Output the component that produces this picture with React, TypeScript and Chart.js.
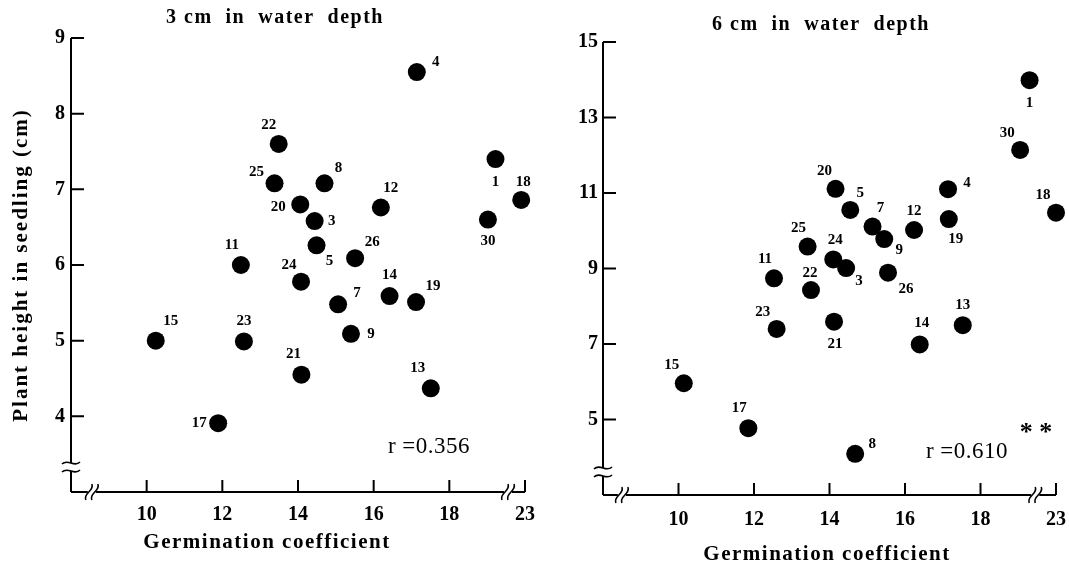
import React, { useEffect, useRef } from 'react';
import { Chart, registerables } from 'chart.js';

Chart.register(...registerables);

// ---------- data: 3 cm water depth ----------
const ids3 = ['4', '22', '25', '8', '20', '3', '12', '1', '18', '30', '11', '5', '26', '24', '14', '19', '7', '15', '23', '9', '21', '13', '17'];
const germination3 = [17.14, 13.49, 13.38, 14.7, 14.06, 14.44, 16.19, 19.22, 22.9, 19.02, 12.49, 14.49, 15.51, 14.08, 16.42, 17.12, 15.06, 10.24, 12.57, 15.4, 14.09, 17.51, 11.89];
const height3 = [8.55, 7.6, 7.08, 7.08, 6.8, 6.58, 6.76, 7.4, 6.86, 6.6, 6.0, 6.26, 6.09, 5.78, 5.59, 5.51, 5.48, 5.0, 4.99, 5.09, 4.55, 4.37, 3.91];
const yTicks3 = [4, 5, 6, 7, 8, 9];
const r3 = 'r =0.356';

// ---------- data: 6 cm water depth ----------
const ids6 = ['1', '30', '18', '20', '4', '5', '7', '12', '19', '9', '25', '24', '3', '26', '11', '22', '23', '21', '14', '13', '15', '17', '8'];
const germination6 = [19.3, 19.05, 23.0, 14.16, 17.14, 14.55, 15.14, 16.24, 17.16, 15.45, 13.42, 14.1, 14.44, 15.55, 12.53, 13.51, 12.6, 14.12, 16.39, 17.53, 10.14, 11.85, 14.68];
const height6 = [13.99, 12.14, 10.48, 11.11, 11.1, 10.55, 10.11, 10.02, 10.31, 9.78, 9.58, 9.24, 9.01, 8.89, 8.74, 8.43, 7.4, 7.59, 6.99, 7.5, 5.96, 4.77, 4.09];
const yTicks6 = [5, 7, 9, 11, 13, 15];
const r6 = 'r =0.610';

// shared x axis ticks (broken axis: 23 sits right after the break)
const xTickValues = [10, 12, 14, 16, 18, 23];
const xTickLabels = ['10', '12', '14', '16', '18', '23'];
const xTitle = 'Germination coefficient';
const yTitle = 'Plant height in seedling (cm)';

// ---------- label offsets (px, relative to each dot) ----------
const labelOffsets3 = [[19, -10], [-10, -19], [-18, -11], [14, -15], [-22, 3], [17, 0], [10, -19], [0, 23], [2, -18], [0, 22], [-9, -20], [13, 16], [17, -16], [-12, -17], [0, -21], [17, -16], [19, -11], [15, -20], [0, -20], [20, 0], [-8, -21], [-13, -20], [-19, 0]];
const labelOffsets6 = [[0, 23], [-13, -17], [-13, -18], [-11, -18], [19, -6], [10, -17], [8, -18], [0, -19], [7, 20], [15, 11], [-9, -18], [2, -19], [13, 13], [18, 16], [-9, -19], [-1, -17], [-14, -17], [1, 22], [2, -21], [0, -20], [-12, -18], [-9, -20], [17, -10]];

const SERIF = '"Liberation Serif", "DejaVu Serif", serif';

// broken x axis: values beyond the break are shifted onto the short end segment
const axisX = (g: number) => (g > 20.5 ? g - 3 : g);

type Panel = {
  title: string;
  ids: string[];
  xs: number[];
  ys: number[];
  offsets: number[][];
  yTicks: number[];
  yMin: number;
  yMax: number;
  rText: string;
  stars: boolean;
  top: number;
  padRight: number;
  yAxisW: number;
  xAxisH: number;
  xTickPad: number;
  yTickPad: number;
  yBreak: number;
  xBreaks: number[];
  titlePos: number[];
  xTitlePos: number[];
  yTitlePos: number[];
  rPos: number[];
  starPos: number[];
};

const panel3: Panel = {
  title: '3 cm  in  water  depth',
  ids: ids3, xs: germination3, ys: height3, offsets: labelOffsets3,
  yTicks: yTicks3, yMin: 3, yMax: 9, rText: r3, stars: false,
  top: 38, padRight: 10, yAxisW: 71, xAxisH: 75, xTickPad: 11, yTickPad: 6,
  yBreak: 3.33, xBreaks: [8.55, 19.55],
  titlePos: [275, 18], xTitlePos: [267, 543], yTitlePos: [22, 265], rPos: [429, 447], starPos: [0, 0],
};

const panel6: Panel = {
  title: '6 cm  in  water  depth',
  ids: ids6, xs: germination6, ys: height6, offsets: labelOffsets6,
  yTicks: yTicks6, yMin: 3, yMax: 15, rText: r6, stars: true,
  top: 42, padRight: 13, yAxisW: 68, xAxisH: 72, xTickPad: 13, yTickPad: 5,
  yBreak: 3.61, xBreaks: [8.5, 19.45],
  titlePos: [821 - 535, 25], xTitlePos: [827 - 535, 555], yTitlePos: [0, 0], rPos: [967 - 535, 452], starPos: [1036 - 535, 433],
};

function overlay(p: Panel) {
  return {
    id: 'overlay',
    afterDraw(chart: any) {
      const ctx: CanvasRenderingContext2D = chart.ctx;
      const { left, right, top, bottom } = chart.chartArea;
      const sx = chart.scales.x;
      const sy = chart.scales.y;
      ctx.save();
      ctx.strokeStyle = '#000';
      ctx.fillStyle = '#000';
      ctx.lineWidth = 2;

      // y axis with break
      const yb = sy.getPixelForValue(p.yBreak);
      ctx.beginPath();
      ctx.moveTo(left, top);
      ctx.lineTo(left, yb - 4);
      ctx.moveTo(left, yb + 4);
      ctx.lineTo(left, bottom);
      ctx.stroke();
      ctx.lineWidth = 1.6;
      for (const d of [-4, 4]) {
        ctx.beginPath();
        ctx.moveTo(left - 9, yb + d + 1);
        ctx.bezierCurveTo(left - 3, yb + d - 5, left + 3, yb + d + 5, left + 9, yb + d - 1);
        ctx.stroke();
      }

      // x axis with breaks
      ctx.lineWidth = 2;
      const xb = p.xBreaks.map((v) => sx.getPixelForValue(v));
      ctx.beginPath();
      ctx.moveTo(left, bottom);
      ctx.lineTo(xb[0] - 4, bottom);
      ctx.moveTo(xb[0] + 4, bottom);
      ctx.lineTo(xb[1] - 4, bottom);
      ctx.moveTo(xb[1] + 4, bottom);
      ctx.lineTo(right, bottom);
      ctx.stroke();
      ctx.lineWidth = 1.6;
      for (const b of xb) {
        for (const d of [-3, 3]) {
          ctx.beginPath();
          ctx.moveTo(b + d - 3, bottom + 8);
          ctx.bezierCurveTo(b + d - 6, bottom + 1, b + d + 6, bottom - 1, b + d + 3, bottom - 8);
          ctx.stroke();
        }
      }

      // inward tick marks
      ctx.lineWidth = 2;
      ctx.beginPath();
      for (const t of sy.ticks) {
        const py = sy.getPixelForValue(t.value);
        ctx.moveTo(left, py);
        ctx.lineTo(left + 13, py);
      }
      for (const t of sx.ticks) {
        const px = sx.getPixelForValue(t.value);
        ctx.moveTo(px, bottom);
        ctx.lineTo(px, bottom - 12);
      }
      ctx.stroke();

      // point labels
      ctx.font = `bold 15px ${SERIF}`;
      ctx.textAlign = 'center';
      ctx.textBaseline = 'middle';
      const meta = chart.getDatasetMeta(0);
      meta.data.forEach((el: any, i: number) => {
        const [dx, dy] = p.offsets[i];
        ctx.fillText(p.ids[i], el.x + dx, el.y + dy);
      });

      // title
      (ctx as any).letterSpacing = '1.5px';
      ctx.font = `bold 20px ${SERIF}`;
      ctx.fillText(p.title, p.titlePos[0], p.titlePos[1]);

      // x title
      (ctx as any).letterSpacing = '1.5px';
      ctx.font = `bold 21px ${SERIF}`;
      ctx.fillText(xTitle, p.xTitlePos[0], p.xTitlePos[1]);

      // y title (left panel only)
      if (p.yTitlePos[0] > 0) {
        ctx.save();
        (ctx as any).letterSpacing = '2px';
        ctx.font = `bold 21px ${SERIF}`;
        ctx.translate(p.yTitlePos[0], p.yTitlePos[1]);
        ctx.rotate(-Math.PI / 2);
        ctx.fillText(yTitle, 0, 0);
        ctx.restore();
      }

      // correlation
      (ctx as any).letterSpacing = '0.5px';
      ctx.font = `23px ${SERIF}`;
      ctx.fillText(p.rText, p.rPos[0], p.rPos[1]);
      if (p.stars) {
        ctx.font = `bold 26px ${SERIF}`;
        (ctx as any).letterSpacing = '0px';
        ctx.fillText('* *', p.starPos[0], p.starPos[1]);
      }
      ctx.restore();
    },
  };
}

function buildChart(canvas: HTMLCanvasElement, p: Panel) {
  const points = p.xs.map((g, i) => ({ x: axisX(g), y: p.ys[i] }));
  return new Chart(canvas, {
    type: 'scatter',
    data: {
      datasets: [
        {
          data: points,
          backgroundColor: '#000',
          borderColor: '#000',
          borderWidth: 0,
          pointRadius: 9,
          pointHoverRadius: 9,
          clip: false as any,
        } as any,
      ],
    },
    options: {
      responsive: false,
      maintainAspectRatio: false,
      animation: false,
      events: [],
      layout: { padding: { left: 0, top: p.top, right: p.padRight, bottom: 0 } },
      plugins: {
        legend: { display: false },
        tooltip: { enabled: false },
        title: { display: false },
      },
      scales: {
        x: {
          type: 'linear',
          min: 8,
          max: 20,
          border: { display: false },
          grid: { display: false, drawTicks: false },
          afterBuildTicks: (s: any) => {
            s.ticks = xTickValues.map((v) => ({ value: axisX(v) }));
          },
          afterFit: (s: any) => {
            s.height = p.xAxisH;
            s.paddingLeft = 0;
            s.paddingRight = 0;
          },
          ticks: {
            autoSkip: false,
            maxRotation: 0,
            padding: p.xTickPad,
            color: '#000',
            font: { family: SERIF, size: 20, weight: 'bold' },
            callback: (_v: any, i: number) => xTickLabels[i],
          },
        },
        y: {
          type: 'linear',
          min: p.yMin,
          max: p.yMax,
          border: { display: false },
          grid: { display: false, drawTicks: false },
          afterBuildTicks: (s: any) => {
            s.ticks = p.yTicks.map((v) => ({ value: v }));
          },
          afterFit: (s: any) => {
            s.width = p.yAxisW;
            s.paddingTop = 0;
            s.paddingBottom = 0;
          },
          ticks: {
            autoSkip: false,
            padding: p.yTickPad,
            color: '#000',
            font: { family: SERIF, size: 20, weight: 'bold' },
            callback: (v: any) => String(v),
          },
        },
      },
    } as any,
    plugins: [overlay(p) as any],
  });
}

export default function App() {
  const ref3 = useRef<HTMLCanvasElement>(null);
  const ref6 = useRef<HTMLCanvasElement>(null);

  useEffect(() => {
    const c1 = buildChart(ref3.current as HTMLCanvasElement, panel3);
    const c2 = buildChart(ref6.current as HTMLCanvasElement, panel6);
    return () => {
      c1.destroy();
      c2.destroy();
    };
  }, []);

  return (
    <div style={{ position: 'fixed', left: 0, top: 0, width: 1069, height: 567, background: '#fff', overflow: 'hidden' }}>
      <canvas ref={ref3} width={535} height={567} style={{ position: 'absolute', left: 0, top: 0, width: 535, height: 567 }} />
      <canvas ref={ref6} width={534} height={567} style={{ position: 'absolute', left: 535, top: 0, width: 534, height: 567 }} />
    </div>
  );
}
